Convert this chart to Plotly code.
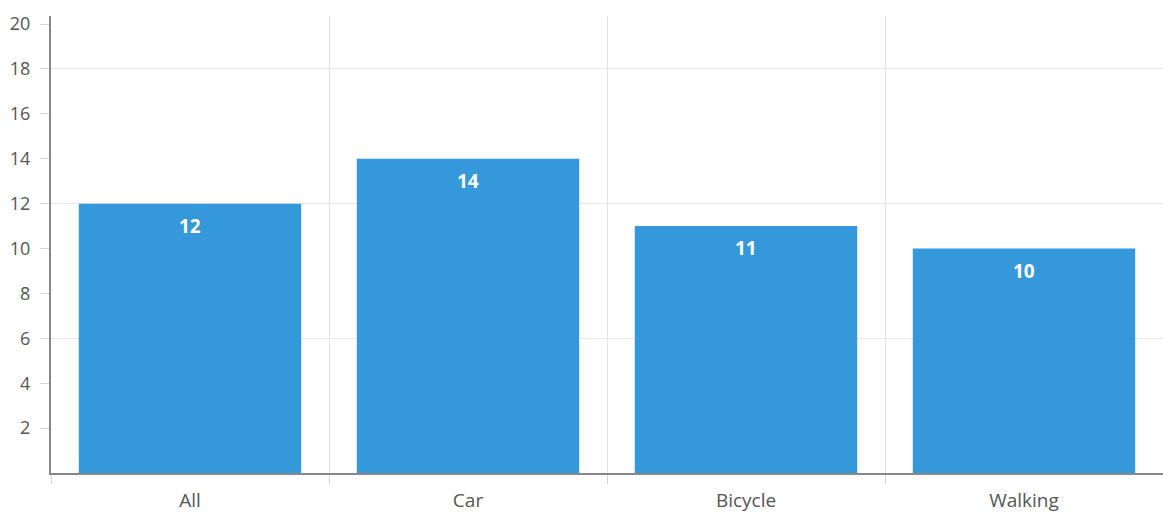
import plotly.graph_objects as go

categories = ["All", "Car", "Bicycle", "Walking"]
values = [12, 14, 11, 10]
y_ticks = [2, 4, 6, 8, 10, 12, 14, 16, 18, 20]
grid_ticks = [6, 12, 18]

fig = go.Figure()
fig.add_trace(go.Bar(
    x=categories, y=values,
    marker=dict(color="#3598db", line=dict(width=0)),
    width=0.8,
    hoverinfo="skip",
))
# invisible trace to anchor overlay axis for sparse gridlines
fig.add_trace(go.Scatter(x=categories, y=values, yaxis="y2", mode="markers",
                         marker=dict(opacity=0), showlegend=False, hoverinfo="skip"))

for c, v in zip(categories, values):
    fig.add_annotation(
        x=c, y=v, xref="x", yref="y", text=str(v), showarrow=False,
        yanchor="top", yshift=-7,
        font=dict(family="Open Sans", size=19, color="white", weight="bold"),
    )

fig.update_layout(
    width=1163, height=515,
    margin=dict(l=51, r=0, t=16, b=42),
    plot_bgcolor="white", paper_bgcolor="white",
    showlegend=False,
    bargap=0.2,
    font=dict(family="Open Sans", color="#555"),
    xaxis=dict(
        tickson="boundaries", showgrid=True, gridcolor="#e3e3e3", gridwidth=1,
        ticks="outside", ticklen=9, tickcolor="#d6d6d6",
        tickfont=dict(size=19, color="#555"),
        showline=True, linecolor="#888", linewidth=2,
        zeroline=False, ticklabelstandoff=9,
    ),
    yaxis=dict(
        range=[0, 20.36], tickvals=y_ticks,
        showgrid=False, zeroline=False,
        ticks="outside", ticklen=9, tickcolor="#d6d6d6",
        tickfont=dict(size=18, color="#555"),
        showline=True, linecolor="#888", linewidth=2,
        ticklabelstandoff=6,
    ),
    yaxis2=dict(
        range=[0, 20.36], overlaying="y", tickvals=grid_ticks,
        showgrid=True, gridcolor="#e8e8e8", gridwidth=1,
        showticklabels=False, zeroline=False, showline=False, ticks="",
    ),
)

fig.write_html("out.html")
